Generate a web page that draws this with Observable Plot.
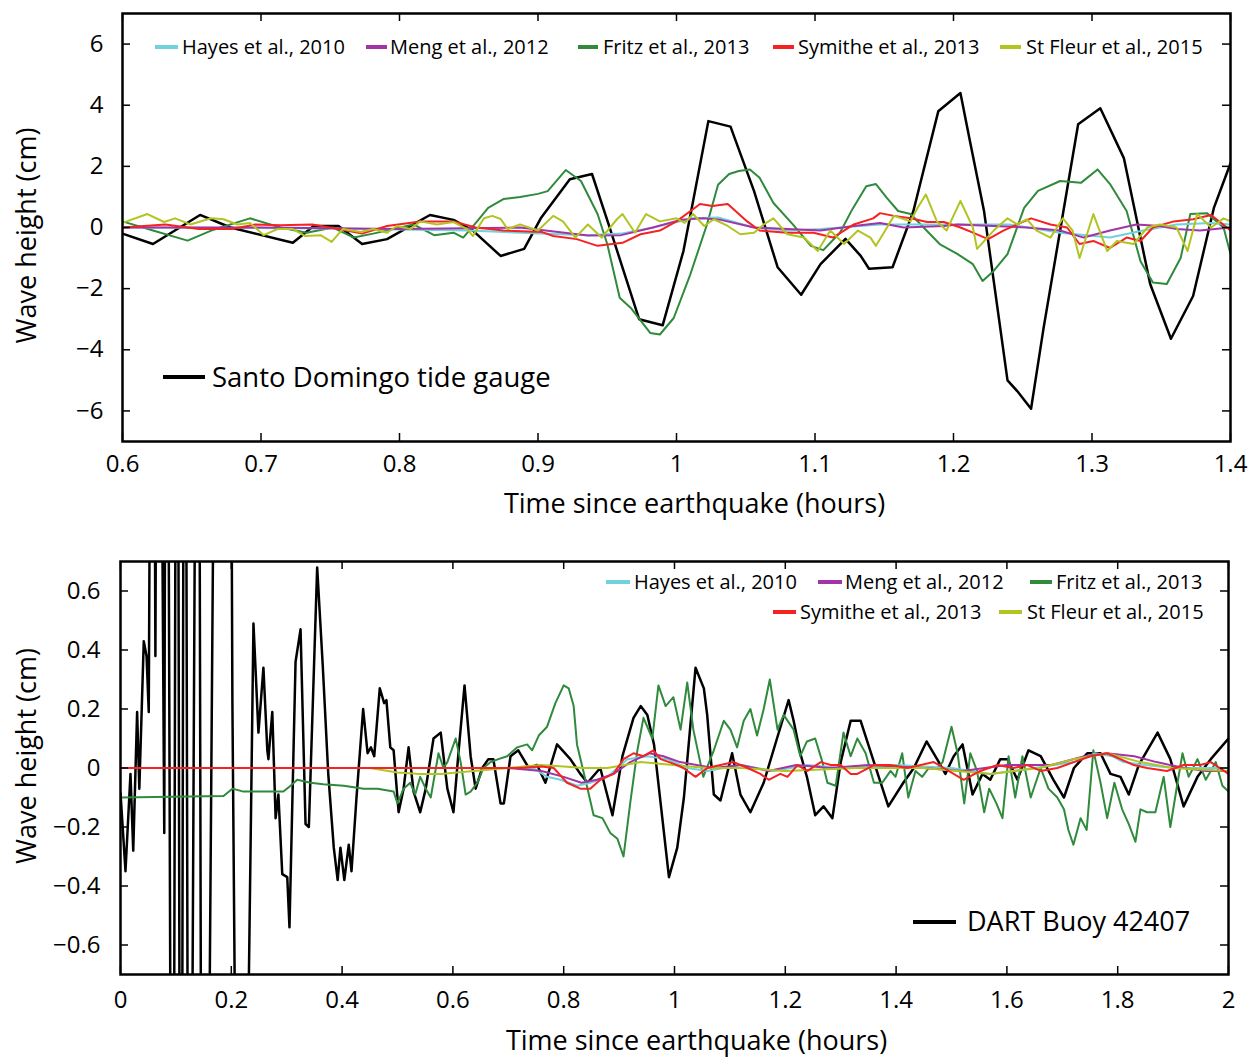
<!DOCTYPE html>
<html><head><meta charset="utf-8">
<script src="https://cdn.jsdelivr.net/npm/d3@7"></script>
<script src="https://cdn.jsdelivr.net/npm/@observablehq/plot@0.6"></script>
<style>
body{margin:0;background:#fff;font-family:"Open Sans",sans-serif;}
#wrap{position:relative;width:1257px;height:1060px;overflow:hidden;background:#fff;}
#wrap svg{position:absolute;left:0;}
.leg{position:absolute;white-space:nowrap;color:#000;line-height:1.2;transform:translateY(-52%);}
.sw{position:absolute;height:4px;transform:translateY(-50%);}
</style></head>
<body><div id="wrap"></div>
<script>
// ---------- DATA ----------
const seriesNames = ["Hayes et al., 2010","Meng et al., 2012","Fritz et al., 2013","Symithe et al., 2013","St Fleur et al., 2015"];
const seriesColors = ["#6fd2dc","#a234a8","#2f8a3c","#f52222","#b2c421"];

const topXTicks = [0.6,0.7,0.8,0.9,1,1.1,1.2,1.3,1.4];
const topYTicks = [-6,-4,-2,0,2,4,6];
const botXTicks = [0,0.2,0.4,0.6,0.8,1,1.2,1.4,1.6,1.8,2];
const botYTicks = [-0.6,-0.4,-0.2,0,0.2,0.4,0.6];

// Top panel: Santo Domingo tide gauge (hours, cm)
const topGauge = [[0.6,-0.2],[0.622,-0.54],[0.656,0.41],[0.678,0.0],[0.723,-0.5],[0.738,0.05],[0.756,0.05],[0.773,-0.54],[0.791,-0.38],[0.822,0.41],[0.839,0.25],[0.853,-0.1],[0.873,-0.93],[0.89,-0.7],[0.902,0.3],[0.923,1.58],[0.939,1.75],[0.951,0.1],[0.973,-3.0],[0.99,-3.2],[1.005,-0.77],[1.012,0.87],[1.023,3.48],[1.039,3.3],[1.056,1.19],[1.073,-1.3],[1.09,-2.2],[1.104,-1.2],[1.122,-0.37],[1.133,-0.93],[1.139,-1.35],[1.156,-1.3],[1.171,0.53],[1.189,3.8],[1.205,4.4],[1.212,2.8],[1.222,0.55],[1.239,-5.0],[1.246,-5.35],[1.256,-5.93],[1.265,-3.3],[1.279,0.44],[1.29,3.38],[1.306,3.9],[1.323,2.27],[1.342,-1.85],[1.357,-3.64],[1.373,-2.24],[1.388,0.64],[1.4,2.1]];
const topHayes = [[0.6,0],[0.75,-0.03],[0.85,-0.1],[0.902,-0.2],[0.936,-0.25],[0.96,-0.2],[0.983,0],[1.012,0.3],[1.03,0.33],[1.056,0],[1.08,-0.1],[1.104,-0.05],[1.147,0.1],[1.193,0.1],[1.24,0.1],[1.277,-0.17],[1.313,-0.33],[1.337,-0.1],[1.361,0.1],[1.386,0.15],[1.4,0.1]];
const topMeng = [[0.6,0],[0.7,0],[0.8,-0.05],[0.887,0],[0.936,-0.26],[0.96,-0.25],[0.983,0],[1.003,0.25],[1.019,0.3],[1.032,0.25],[1.056,0],[1.08,-0.05],[1.104,-0.1],[1.128,0.05],[1.147,0.15],[1.164,0],[1.193,0.05],[1.203,0.1],[1.229,0.05],[1.253,0],[1.277,-0.1],[1.294,-0.33],[1.313,-0.1],[1.332,0.1],[1.349,0.05],[1.361,-0.05],[1.378,-0.1],[1.4,0]];
const topFritz = [[0.6,0.2],[0.622,-0.1],[0.647,-0.43],[0.664,-0.1],[0.692,0.3],[0.714,0.0],[0.733,-0.17],[0.752,0.0],[0.767,-0.33],[0.781,-0.2],[0.81,0.1],[0.825,-0.25],[0.839,-0.17],[0.846,-0.33],[0.856,0.2],[0.864,0.64],[0.875,0.93],[0.887,1.0],[0.9,1.1],[0.907,1.19],[0.92,1.88],[0.931,1.52],[0.943,0.44],[0.95,-0.54],[0.959,-2.3],[0.967,-2.63],[0.981,-3.45],[0.988,-3.5],[0.998,-2.96],[1.01,-1.53],[1.022,0.1],[1.03,1.4],[1.038,1.75],[1.045,1.85],[1.053,1.9],[1.06,1.63],[1.07,0.8],[1.084,0.1],[1.097,-0.6],[1.106,-0.74],[1.118,-0.17],[1.127,0.6],[1.137,1.35],[1.144,1.42],[1.152,0.96],[1.16,0.54],[1.169,0.44],[1.19,-0.54],[1.203,-0.87],[1.214,-1.2],[1.221,-1.75],[1.229,-1.42],[1.239,-0.87],[1.251,0.64],[1.261,1.2],[1.277,1.52],[1.292,1.46],[1.304,1.9],[1.313,1.42],[1.325,0.54],[1.335,-1.1],[1.344,-1.8],[1.354,-1.85],[1.364,-1.0],[1.371,0.44],[1.383,0.47],[1.395,0.0],[1.4,-0.87]];
const topSymithe = [[0.6,0],[0.631,0.1],[0.655,-0.05],[0.679,-0.05],[0.696,0.1],[0.714,0.07],[0.737,0.1],[0.756,-0.05],[0.773,-0.2],[0.791,0.05],[0.815,0.2],[0.839,0.2],[0.855,0],[0.875,-0.1],[0.903,-0.15],[0.911,-0.28],[0.928,-0.38],[0.943,-0.6],[0.961,-0.5],[0.974,-0.22],[0.988,-0.1],[1.0,0.2],[1.017,0.77],[1.026,0.7],[1.037,0.77],[1.051,0.2],[1.06,-0.1],[1.08,-0.17],[1.099,-0.17],[1.113,-0.33],[1.128,0.1],[1.142,0.3],[1.147,0.47],[1.157,0.38],[1.169,0.3],[1.181,0.18],[1.193,0.18],[1.205,0],[1.214,-0.17],[1.225,-0.38],[1.236,-0.1],[1.256,0.3],[1.27,0.1],[1.282,0],[1.291,-0.54],[1.301,-0.44],[1.313,-0.67],[1.325,-0.33],[1.335,-0.44],[1.344,0],[1.359,0.2],[1.373,0.27],[1.386,0.41],[1.4,-0.1]];
const topStFleur = [[0.6,0.15],[0.618,0.44],[0.63,0.18],[0.638,0.3],[0.649,0.1],[0.664,0.3],[0.673,0.27],[0.683,0.1],[0.692,0.15],[0.702,-0.25],[0.712,-0.05],[0.723,-0.05],[0.732,-0.28],[0.743,-0.25],[0.751,-0.47],[0.759,-0.05],[0.772,-0.15],[0.781,-0.05],[0.791,-0.17],[0.798,0.05],[0.808,-0.05],[0.815,0.2],[0.827,0.1],[0.839,0.18],[0.849,-0.05],[0.853,-0.28],[0.861,0.3],[0.867,0.38],[0.873,0.28],[0.878,-0.05],[0.887,0.1],[0.9,-0.1],[0.911,0.38],[0.918,0.2],[0.927,-0.33],[0.936,0.1],[0.946,-0.33],[0.957,0.27],[0.961,0.44],[0.97,-0.17],[0.978,0.44],[0.988,0.2],[1.0,0.3],[1.006,0.15],[1.012,0.44],[1.02,0.05],[1.027,0.27],[1.037,0.05],[1.046,-0.22],[1.056,-0.17],[1.063,0.1],[1.07,0.3],[1.08,-0.22],[1.092,-0.33],[1.102,-0.77],[1.111,-0.1],[1.121,-0.54],[1.131,-0.1],[1.14,-0.33],[1.144,-0.6],[1.152,0],[1.157,0.38],[1.169,0.2],[1.174,0.64],[1.18,1.08],[1.188,0.2],[1.195,-0.1],[1.205,0.87],[1.214,0],[1.217,-0.7],[1.229,-0.1],[1.239,0.3],[1.246,0.1],[1.253,0.27],[1.26,-0.1],[1.27,-0.33],[1.279,0.3],[1.286,-0.1],[1.291,-1.0],[1.301,0.44],[1.311,-0.77],[1.318,-0.44],[1.33,-0.54],[1.34,0],[1.349,0.1],[1.361,0],[1.369,-0.77],[1.376,0.44],[1.386,0],[1.395,0.3],[1.4,0.2]];

// Bottom panel: DART buoy 42407 (hours, cm)
const botDart = [[0,-0.085],[0.009,-0.35],[0.018,-0.02],[0.023,-0.28],[0.03,0.19],[0.034,-0.07],[0.042,0.43],[0.047,0.38],[0.051,0.19],[0.058,3],[0.063,0.38],[0.068,3],[0.079,-0.22],[0.083,3],[0.094,-3],[0.102,3],[0.109,-3],[0.116,3],[0.124,-3],[0.14,3],[0.148,-3],[0.152,-3],[0.176,3],[0.196,3],[0.202,0.22],[0.216,-3],[0.24,0.49],[0.249,0.12],[0.258,0.34],[0.265,0.06],[0.267,0.03],[0.274,0.19],[0.28,-0.17],[0.285,-0.09],[0.292,-0.36],[0.301,-0.37],[0.305,-0.54],[0.316,0.36],[0.325,0.47],[0.334,-0.19],[0.34,-0.2],[0.355,0.68],[0.365,0.35],[0.375,-0.02],[0.385,-0.27],[0.392,-0.38],[0.397,-0.27],[0.404,-0.38],[0.412,-0.26],[0.417,-0.35],[0.426,-0.1],[0.438,0.2],[0.446,0.05],[0.452,0.07],[0.458,0.04],[0.468,0.27],[0.476,0.22],[0.48,0.23],[0.487,0.07],[0.493,0.06],[0.502,-0.15],[0.511,-0.07],[0.52,0.07],[0.529,-0.08],[0.541,-0.15],[0.551,-0.07],[0.565,0.1],[0.578,0.12],[0.59,-0.07],[0.601,-0.15],[0.61,0.05],[0.621,0.28],[0.632,0.04],[0.641,-0.07],[0.653,0],[0.664,0.03],[0.673,0.03],[0.686,-0.12],[0.692,-0.12],[0.704,0.04],[0.718,0.06],[0.737,0],[0.752,0.01],[0.767,-0.05],[0.788,0.08],[0.812,0.03],[0.83,-0.02],[0.843,-0.05],[0.866,0],[0.888,-0.16],[0.906,0.04],[0.926,0.17],[0.939,0.21],[0.951,0.18],[0.963,0.08],[0.975,-0.12],[0.99,-0.37],[1.005,-0.27],[1.017,-0.1],[1.038,0.34],[1.053,0.27],[1.059,0.18],[1.071,-0.09],[1.083,-0.11],[1.104,0.05],[1.119,-0.09],[1.137,-0.15],[1.161,-0.05],[1.185,0.1],[1.206,0.23],[1.215,0.16],[1.227,0.05],[1.239,-0.03],[1.254,-0.16],[1.269,-0.13],[1.285,-0.17],[1.3,0.02],[1.318,0.16],[1.336,0.16],[1.36,0.02],[1.386,-0.13],[1.413,-0.05],[1.432,0],[1.455,0.09],[1.474,0.03],[1.489,-0.02],[1.504,0.04],[1.52,0.08],[1.538,-0.09],[1.556,-0.02],[1.57,-0.04],[1.588,0.03],[1.601,0.03],[1.619,-0.04],[1.639,0.06],[1.661,0.04],[1.684,-0.04],[1.703,-0.1],[1.721,0],[1.745,0.05],[1.769,0.05],[1.787,-0.02],[1.805,-0.03],[1.82,-0.09],[1.838,0.01],[1.872,0.12],[1.895,0.03],[1.919,-0.13],[1.944,-0.03],[1.968,0.03],[2.0,0.1]];
const botHayes = [[0,0],[0.7,0],[0.745,0],[0.77,-0.03],[0.794,-0.04],[0.825,-0.06],[0.848,-0.05],[0.879,-0.03],[0.915,0.03],[0.951,0.04],[0.987,0.03],[1.023,0],[1.059,-0.01],[1.119,0.01],[1.179,-0.01],[1.24,0.01],[1.3,0],[1.4,0.01],[1.5,0],[1.57,-0.02],[1.65,0],[1.72,0.02],[1.76,0.05],[1.79,0.04],[1.81,0.02],[1.85,0.01],[1.9,0],[2.0,0]];
const botMeng = [[0,0],[0.7,0],[0.76,-0.01],[0.8,-0.03],[0.832,-0.05],[0.86,-0.04],[0.89,-0.02],[0.92,0.02],[0.955,0.05],[0.98,0.04],[1.01,0.02],[1.04,0.01],[1.07,0],[1.12,0.01],[1.17,-0.01],[1.22,0.01],[1.28,0],[1.35,0.01],[1.45,0],[1.52,-0.01],[1.6,0.01],[1.68,0.01],[1.74,0.04],[1.78,0.05],[1.83,0.04],[1.87,0.02],[1.92,0.0],[1.96,-0.01],[2.0,-0.01]];
const botFritz = [[0,-0.1],[0.186,-0.095],[0.202,-0.07],[0.222,-0.08],[0.294,-0.08],[0.307,-0.06],[0.319,-0.04],[0.343,-0.05],[0.366,-0.055],[0.403,-0.06],[0.439,-0.07],[0.464,-0.07],[0.493,-0.08],[0.5,-0.12],[0.511,-0.07],[0.523,-0.05],[0.532,-0.09],[0.541,-0.03],[0.551,-0.07],[0.56,-0.1],[0.574,0.05],[0.583,0],[0.59,0.02],[0.605,0.1],[0.614,0.02],[0.623,-0.09],[0.632,-0.08],[0.644,-0.05],[0.655,0],[0.668,0.02],[0.682,0.03],[0.698,0.04],[0.716,0.07],[0.734,0.08],[0.743,0.06],[0.755,0.11],[0.77,0.14],[0.785,0.22],[0.8,0.28],[0.809,0.27],[0.818,0.21],[0.824,0.08],[0.843,-0.07],[0.854,-0.16],[0.87,-0.17],[0.884,-0.22],[0.897,-0.24],[0.908,-0.3],[0.92,-0.12],[0.933,0.06],[0.944,0.17],[0.96,0.1],[0.971,0.28],[0.984,0.21],[0.998,0.24],[1.011,0.13],[1.023,0.29],[1.034,0.13],[1.052,-0.03],[1.071,0.06],[1.089,0.16],[1.101,0.13],[1.113,0.07],[1.125,0.16],[1.137,0.2],[1.149,0.11],[1.161,0.2],[1.172,0.3],[1.186,0.13],[1.197,0.18],[1.215,0.13],[1.227,0.04],[1.239,0.09],[1.254,0.1],[1.267,0.02],[1.276,-0.05],[1.291,-0.06],[1.305,0.12],[1.318,0.04],[1.33,0.1],[1.345,0.05],[1.36,-0.05],[1.375,-0.05],[1.39,-0.01],[1.399,-0.03],[1.411,0.05],[1.422,-0.1],[1.435,-0.01],[1.447,-0.03],[1.459,0],[1.474,0],[1.484,0.02],[1.5,0.14],[1.511,0.05],[1.523,-0.12],[1.534,0.05],[1.546,-0.01],[1.559,-0.15],[1.568,-0.07],[1.581,-0.12],[1.592,-0.17],[1.603,0.04],[1.615,-0.1],[1.628,0.04],[1.643,-0.1],[1.661,0],[1.675,-0.07],[1.691,-0.1],[1.703,-0.14],[1.711,-0.21],[1.72,-0.26],[1.733,-0.17],[1.744,-0.21],[1.756,0.06],[1.769,-0.05],[1.781,-0.17],[1.794,-0.05],[1.808,-0.14],[1.82,-0.19],[1.832,-0.25],[1.841,-0.14],[1.853,-0.15],[1.868,-0.15],[1.883,-0.03],[1.895,-0.2],[1.908,-0.05],[1.917,0.05],[1.928,-0.03],[1.944,0.03],[1.959,-0.04],[1.977,0.02],[1.989,-0.06],[2.0,-0.08]];
const botSymithe = [[0,0],[0.72,0],[0.76,0.005],[0.782,0],[0.806,-0.05],[0.83,-0.07],[0.848,-0.07],[0.866,-0.04],[0.89,-0.02],[0.908,0.03],[0.926,0.05],[0.944,0.04],[0.962,0.06],[0.975,0.03],[0.998,0.015],[1.016,0],[1.038,-0.03],[1.059,0],[1.083,0.01],[1.107,0.02],[1.132,0],[1.155,-0.02],[1.17,-0.04],[1.191,-0.02],[1.204,-0.03],[1.222,0.01],[1.24,-0.01],[1.264,0.02],[1.282,0.01],[1.3,0.01],[1.318,-0.02],[1.33,-0.02],[1.36,0.01],[1.39,0.01],[1.42,0],[1.468,0.02],[1.486,0],[1.522,-0.04],[1.552,-0.01],[1.583,0.01],[1.612,0],[1.637,0.01],[1.661,-0.01],[1.691,0],[1.721,0.02],[1.751,0.04],[1.781,0.05],[1.805,0.03],[1.829,0.01],[1.853,0],[1.889,-0.01],[1.919,0.01],[1.949,0.01],[1.968,0.02],[2.0,-0.02]];
const botStFleur = [[0,0],[0.45,0],[0.5,-0.015],[0.54,-0.02],[0.578,-0.02],[0.637,-0.01],[0.7,0],[0.758,0.01],[0.8,0.005],[0.836,0],[0.879,0],[0.939,0.02],[0.998,0.01],[1.059,0],[1.119,0],[1.2,-0.01],[1.33,0],[1.45,0],[1.57,-0.02],[1.66,0],[1.72,0.03],[1.781,0.05],[1.841,0.02],[1.9,0],[2.0,-0.01]];

// ---------- LAYOUT ----------
const W = 1257, PH = 530;
const FONT = "'Open Sans', sans-serif";
const wrap = document.getElementById("wrap");
const fmt = d => (d < 0 ? "\u2212" : "") + String(Math.abs(d));

function panel({xDomain, yDomain, xTicks, yTicks, mL, mR, mT, mB, series, padX, padY, xLabelDx, xLabelDy, yLabelDx, yLabelDy}) {
  const fw = W - mL - mR, fh = PH - mT - mB;
  const lineMarks = series.map(s => Plot.line(s.data, {x: d => d[0], y: d => d[1], stroke: s.color, strokeWidth: s.w, clip: true}));
  return Plot.plot({
    width: W, height: PH, marginLeft: mL, marginRight: mR, marginTop: mT, marginBottom: mB,
    x: {domain: xDomain}, y: {domain: yDomain},
    style: {fontFamily: FONT, color: "#000", background: "transparent"},
    marks: [
      ...lineMarks,
      Plot.ruleX(xTicks, {x: d => d, insetTop: fh - 8, stroke: "#000", strokeWidth: 1.5}),
      Plot.ruleX(xTicks, {x: d => d, insetBottom: fh - 8, stroke: "#000", strokeWidth: 1.5}),
      Plot.ruleY(yTicks, {y: d => d, insetRight: fw - 8, stroke: "#000", strokeWidth: 1.5}),
      Plot.ruleY(yTicks, {y: d => d, insetLeft: fw - 8, stroke: "#000", strokeWidth: 1.5}),
      Plot.frame({stroke: "#000", strokeWidth: 2.5}),
      Plot.axisX(xTicks, {tickSize: 0, tickPadding: padX, fontSize: 24, label: null, tickFormat: fmt}),
      Plot.axisY(yTicks, {tickSize: 0, tickPadding: padY, fontSize: 24, label: null, tickFormat: fmt}),
      Plot.text(["Time since earthquake (hours)"], {text: d => d, frameAnchor: "bottom", dx: xLabelDx, dy: xLabelDy, fontSize: 27, lineAnchor: "middle", textAnchor: "middle"}),
      Plot.text(["Wave height (cm)"], {text: d => d, frameAnchor: "left", dx: yLabelDx, dy: yLabelDy, rotate: -90, fontSize: 27, lineAnchor: "middle", textAnchor: "middle"})
    ]
  });
}

const mk = (data, i, w) => ({data, color: seriesColors[i], w: w || 2});
const topSvg = panel({
  xDomain: [0.6, 1.4], yDomain: [-7, 7], xTicks: topXTicks, yTicks: topYTicks,
  mL: 122, mR: 27, mT: 13, mB: 89, padX: 13, padY: 19,
  xLabelDx: 18, xLabelDy: 63, yLabelDx: -95, yLabelDy: 8,
  series: [
    {data: topGauge, color: "#000", w: 2.5},
    mk(topFritz, 2), mk(topHayes, 0), mk(topMeng, 1), mk(topSymithe, 3), mk(topStFleur, 4)
  ]
});
topSvg.style.top = "0px";
wrap.appendChild(topSvg);

const botSvg = panel({
  xDomain: [0, 2], yDomain: [-0.7, 0.7], xTicks: botXTicks, yTicks: botYTicks,
  mL: 120, mR: 29, mT: 31, mB: 86, padX: 16, padY: 20,
  xLabelDx: 22, xLabelDy: 67, yLabelDx: -93, yLabelDy: -12,
  series: [
    {data: botDart, color: "#000", w: 2.5},
    mk(botFritz, 2), mk(botHayes, 0), mk(botMeng, 1), mk(botStFleur, 4), mk(botSymithe, 3)
  ]
});
botSvg.style.top = PH + "px";
wrap.appendChild(botSvg);

// ---------- LEGENDS (HTML overlays) ----------
function legendItem(color, x0, x1, tx, y, label, size, thick) {
  const sw = document.createElement("div");
  sw.className = "sw";
  sw.style.cssText += `left:${x0}px;width:${x1 - x0}px;top:${y}px;background:${color};height:${thick}px;`;
  wrap.appendChild(sw);
  const t = document.createElement("div");
  t.className = "leg";
  t.style.cssText += `left:${tx}px;top:${y}px;font-size:${size}px;`;
  t.textContent = label;
  wrap.appendChild(t);
}
const topLeg = [[155,178,182],[366,387,390],[578,598,603],[773,794,798],[1000,1021,1026]];
topLeg.forEach((p, i) => legendItem(seriesColors[i], p[0], p[1], p[2], 47, seriesNames[i], 20, 4));
legendItem("#000", 163, 205, 212, 377, "Santo Domingo tide gauge", 27.5, 4);

const botLeg = [[606,630,634,582],[818,842,845,582],[1030,1052,1056,582],[773,796,800,612],[999,1022,1027,612]];
botLeg.forEach((p, i) => legendItem(seriesColors[i], p[0], p[1], p[2], p[3], seriesNames[i], 20, 4));
legendItem("#000", 913, 956, 967, 922, "DART Buoy 42407", 27, 4);
</script>
</body></html>
